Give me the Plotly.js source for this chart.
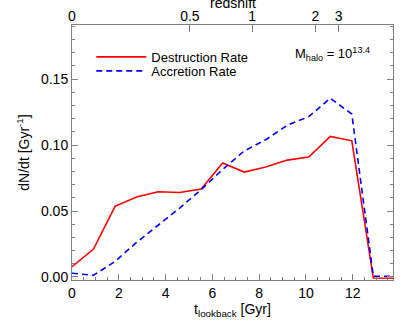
<!DOCTYPE html>
<html>
<head>
<meta charset="utf-8">
<script src="https://cdn.plot.ly/plotly-3.0.1.min.js"></script>
<style>
  html, body { margin: 0; padding: 0; background: #fff; }
  #plot { width: 415px; height: 332px; }
</style>
</head>
<body>
<div id="plot"></div>
<script>
// lookback time of each bin [Gyr]
var tLookback = [0, 0.92, 1.84, 2.76, 3.68, 4.6, 5.52, 6.44, 7.36, 8.28, 9.2, 10.12, 11.04, 11.96, 12.88, 13.72];
var destructionRate = [0.0078, 0.0212, 0.0535, 0.0606, 0.0646, 0.0640, 0.0667, 0.0864, 0.0795, 0.0833, 0.0886, 0.0909, 0.1065, 0.1032, -0.0008, -0.0010];
var accretionRate = [0.0028, 0.0013, 0.0118, 0.0262, 0.0392, 0.0522, 0.0662, 0.0815, 0.0955, 0.1040, 0.1150, 0.1215, 0.1355, 0.1235, 0.0005, 0.0005];

// top axis: redshift labels placed at their lookback time
var redshiftLabels = ['0', '0.5', '1', '2', '3'];
var redshiftTimes = [0, 5.04, 7.7, 10.4, 11.4];

var axisGrey = '#808080';
var font = { family: 'Liberation Sans, Arial, sans-serif', size: 14, color: '#000' };
var legendFont = { family: font.family, size: 13, color: '#000' };

var destruction = {
    x: tLookback,
    y: destructionRate,
    type: 'scatter',
    mode: 'lines',
    name: 'Destruction Rate',
    legend: 'legend',
    line: { color: '#ff0000', width: 1.6 }
};
var accretion = {
    x: tLookback,
    y: accretionRate,
    type: 'scatter',
    mode: 'lines',
    name: 'Accretion Rate',
    legend: 'legend2',
    line: { color: '#0000ff', width: 1.6, dash: '6px,4px' }
};
// empty trace so the top redshift axis gets drawn
var topAxis = {
    x: [],
    y: [],
    type: 'scatter',
    mode: 'lines',
    xaxis: 'x2',
    showlegend: false,
    hoverinfo: 'skip'
};

var layout = {
    width: 415,
    height: 332,
    margin: { l: 72, r: 22, t: 25, b: 52 },
    paper_bgcolor: '#fff',
    plot_bgcolor: '#fff',
    font: font,
    showlegend: true,
    // two legends so the rows can sit closer together
    legend: {
        x: 0.06, y: 0.875, xanchor: 'left', yanchor: 'middle',
        bgcolor: 'rgba(0,0,0,0)', font: legendFont, itemwidth: 50
    },
    legend2: {
        x: 0.06, y: 0.82, xanchor: 'left', yanchor: 'middle',
        bgcolor: 'rgba(0,0,0,0)', font: legendFont, itemwidth: 50
    },
    xaxis: {
        range: [0, 13.72],
        tickvals: [0, 2, 4, 6, 8, 10, 12],
        ticks: 'inside',
        ticklen: 6,
        tickcolor: axisGrey,
        showline: true,
        linecolor: axisGrey,
        linewidth: 1,
        mirror: true,
        showgrid: false,
        zeroline: false,
        tickfont: font,
        minor: { dtick: 0.5, ticks: 'inside', ticklen: 3, tickcolor: axisGrey },
        title: { text: 't<sub>lookback</sub> [Gyr]', font: font, standoff: 0 }
    },
    xaxis2: {
        overlaying: 'x',
        side: 'top',
        anchor: 'y',
        range: [0, 13.72],
        tickvals: redshiftTimes,
        ticktext: redshiftLabels,
        ticks: 'inside',
        ticklen: 7,
        tickcolor: axisGrey,
        showline: false,
        showgrid: false,
        zeroline: false,
        tickfont: font
    },
    yaxis: {
        range: [-0.0023, 0.191],
        tickvals: [0, 0.05, 0.10, 0.15],
        ticktext: ['0.00', '0.05', '0.10', '0.15'],
        ticks: 'inside',
        ticklen: 6,
        tickcolor: axisGrey,
        showline: true,
        linecolor: axisGrey,
        linewidth: 1,
        mirror: 'ticks',
        showgrid: false,
        zeroline: false,
        tickfont: font,
        minor: { dtick: 0.01, ticks: 'inside', ticklen: 3, tickcolor: axisGrey },
        title: { text: 'dN/dt [Gyr<sup>-1</sup>]', font: font, standoff: 8 }
    },
    annotations: [{
        xref: 'paper', yref: 'paper',
        x: 0.69, y: 0.885,
        xanchor: 'left', yanchor: 'middle',
        showarrow: false,
        text: 'M<sub>halo</sub> = 10<sup>13.4</sup>',
        font: legendFont
    }, {
        // top axis title, partly cut by the page edge as in the original
        xref: 'paper', yref: 'paper',
        x: 0.5, y: 1.088,
        xanchor: 'center', yanchor: 'middle',
        showarrow: false,
        text: 'redshift',
        font: font
    }]
};

Plotly.newPlot('plot', [destruction, accretion, topAxis], layout, { staticPlot: true, displayModeBar: false });
</script>
</body>
</html>
